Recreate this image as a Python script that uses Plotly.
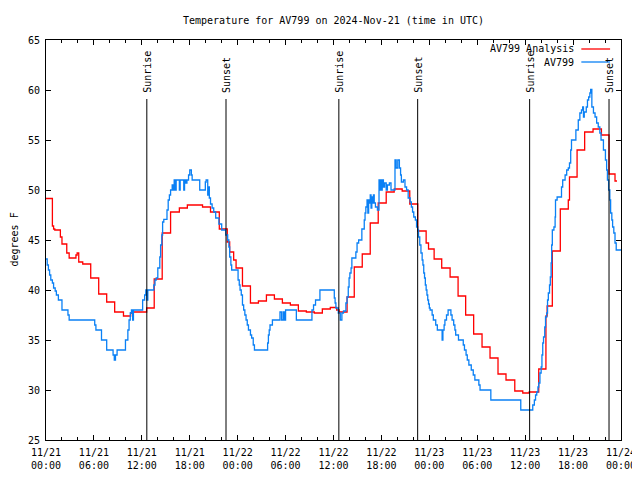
import pandas as pd
import plotly.graph_objects as go

start = pd.Timestamp("2024-11-21 00:00")

# AV799 Analysis (step starts, hours since 11/21 00:00 UTC, degrees F)
analysis_hours = [0, 0.8, 0.95, 1.1, 1.8, 2.0, 2.6, 2.9, 3.75, 3.9, 4.1, 4.6, 5.6, 6.6, 7.6, 8.6,
                  9.7, 10.6, 10.9, 12.6, 13.55, 14.55, 15.6, 16.7, 17.7, 19.6, 20.6, 21.7, 22.7,
                  23.0, 23.5, 23.8, 24.6, 25.6, 26.6, 27.6, 28.6, 29.6, 30.6, 31.6, 32.6, 33.6,
                  34.6, 35.6, 36.4, 36.7, 37.7, 38.6, 39.6, 40.6, 41.6, 42.6, 43.6, 44.6, 45.55,
                  46.55, 47.6, 47.9, 48.6, 49.55, 50.6, 51.6, 52.55, 53.55, 54.6, 55.6, 56.6,
                  57.6, 58.7, 59.7, 60.5, 61.7, 62.6, 62.75, 63.4, 64.4, 65.4, 65.55, 66.5,
                  67.45, 68.5, 69.55, 70.5, 71.25, 71.5]
analysis_temps = [49.15, 46.4, 46.1, 46.0, 45.3, 44.6, 43.7, 43.2, 43.5, 43.7, 42.8, 42.6, 41.2,
                  39.6, 38.8, 37.8, 37.4, 37.7, 37.8, 38.2, 41.1, 45.7, 47.8, 48.2, 48.5, 48.3,
                  47.8, 46.1, 44.8, 43.8, 43.0, 42.2, 40.4, 38.7, 38.9, 39.5, 39.1, 38.7, 38.5,
                  37.9, 37.8, 37.7, 38.1, 38.25, 38.0, 37.8, 39.3, 42.3, 43.6, 46.7, 48.7, 49.8,
                  50.1, 49.9, 48.6, 45.9, 44.7, 44.1, 43.1, 42.2, 41.3, 39.4, 37.5, 35.6, 34.3,
                  33.2, 31.6, 31.0, 29.9, 29.7, 29.8, 32.1, 37.4, 38.4, 43.9, 48.1, 49.0, 51.3,
                  54.0, 55.8, 56.1, 55.5, 51.6, 50.9, 50.9]

# AV799 observations (step starts)
obs_hours = [0.0, 0.15, 0.3, 0.45, 0.6, 0.8, 0.95, 1.15, 1.3, 1.55, 2.0, 2.75, 2.9, 6.1, 6.25,
             6.95, 7.6, 8.4, 8.55, 8.7, 8.9, 9.95, 10.25, 10.4, 10.55, 10.7, 10.85, 10.95, 12.1,
             12.35, 12.5, 12.65, 12.75, 13.5, 13.65, 13.8, 14.0, 14.25, 14.35, 14.5, 14.6, 14.75,
             15.15, 15.3, 15.45, 15.6, 15.8, 15.95, 16.05, 16.2, 16.3, 16.7, 16.8, 17.25, 17.35,
             17.5, 17.65, 17.85, 18.0, 18.2, 18.3, 19.25, 19.95, 20.05, 20.25, 20.35, 20.45,
             20.6, 20.8, 21.0, 21.25, 21.65, 22.0, 22.5, 22.75, 22.9, 23.0, 23.15, 23.25, 24.05,
             24.2, 24.3, 24.45, 24.6, 24.75, 24.9, 25.05, 25.2, 25.35, 25.6, 25.75, 25.95, 26.1,
             27.75, 27.85, 27.95, 28.05, 28.35, 29.3, 29.5, 29.7, 29.85, 30.0, 31.35, 33.3, 33.5,
             33.75, 34.3, 36.1, 36.2, 36.3, 36.6, 36.85, 37.05, 37.25, 37.55, 37.7, 37.85, 37.95,
             38.05, 38.2, 38.3, 38.8, 38.95, 39.15, 39.55, 39.85, 39.95, 40.05, 40.2, 40.3, 40.4,
             40.5, 40.6, 40.7, 40.8, 40.9, 41.0, 41.1, 41.25, 41.5, 41.7, 41.8, 41.9, 42.0, 42.1,
             42.25, 42.4, 42.6, 42.75, 43.0, 43.2, 43.7, 43.85, 44.05, 44.25, 44.4, 44.5, 44.75,
             44.95, 45.15, 45.35, 45.6, 45.75, 45.9, 46.05, 46.25, 46.4, 46.55, 46.65, 46.8,
             46.95, 47.1, 47.2, 47.3, 47.4, 47.5, 47.6, 47.7, 47.8, 47.9, 48.0, 48.1, 48.35,
             48.5, 48.8, 49.0, 49.6, 49.7, 49.85, 49.95, 50.15, 50.35, 50.7, 50.85, 51.05, 51.2,
             51.3, 51.65, 52.25, 52.4, 52.6, 52.75, 52.95, 53.25, 53.5, 53.7, 54.2, 54.35, 55.7,
             59.45, 60.95, 61.15, 61.3, 61.45, 61.6, 61.7, 61.85, 62.0, 62.1, 62.2, 62.3, 62.45,
             62.55, 62.7, 62.8, 62.9, 63.05, 63.15, 63.25, 63.32, 63.4, 63.6, 63.75, 63.8, 64.0,
             64.55, 64.7, 65.0, 65.2, 65.4, 65.55, 65.7, 65.8, 66.35, 66.65, 66.85, 67.05, 67.2,
             67.3, 67.4, 67.65, 67.8, 67.95, 68.1, 68.2, 68.35, 68.55, 68.75, 68.95, 69.15, 69.35,
             69.5, 69.8, 70.05, 70.2, 70.3, 70.45, 70.6, 70.7, 70.85, 70.95, 71.1, 71.25, 71.4,
             72.0]
obs_temps = [43.1, 42.5, 42.0, 41.5, 41.0, 40.7, 40.2, 39.9, 39.5, 39.0, 38.0, 37.5, 37.0, 36.5,
             36.0, 35.0, 34.0, 33.5, 33.0, 33.5, 34.0, 35.0, 36.0, 37.0, 37.7, 38.0, 37.0, 38.0,
             39.0, 39.5, 40.0, 39.0, 40.0, 40.5, 41.0, 41.2, 42.2, 43.3, 44.5, 45.5, 46.8, 47.07,
             48.0, 49.0, 49.5, 50.0, 50.5, 50.0, 51.0, 50.0, 51.0, 50.0, 51.0, 50.0, 51.0, 50.7,
             51.0, 51.5, 52.0, 51.5, 51.0, 50.0, 50.8, 51.0, 49.5, 50.3, 49.2, 48.6, 48.2, 47.8,
             47.2, 46.6, 46.0, 45.5, 45.0, 44.3, 43.3, 42.5, 42.0, 41.0, 40.5, 40.0, 39.5, 38.5,
             38.0, 37.5, 37.0, 36.5, 36.0, 35.5, 35.2, 34.5, 34.0, 34.7, 35.5, 36.0, 36.5, 37.0,
             37.8, 37.0, 37.8, 37.0, 38.0, 37.0, 38.0, 38.5, 39.0, 40.0, 39.2, 38.7, 38.2, 37.7,
             37.0, 37.7, 37.9, 38.7, 39.3, 40.3, 41.2, 41.7, 42.2, 43.2, 43.8, 44.7, 45.0, 46.1,
             47.0, 47.7, 48.3, 49.0, 47.7, 49.0, 48.7, 49.5, 48.2, 49.3, 48.7, 49.5, 48.7, 48.3,
             48.0, 51.0, 50.0, 51.0, 50.0, 51.0, 50.3, 50.7, 50.0, 50.5, 50.7, 50.0, 53.0, 52.2,
             53.0, 52.2, 51.5, 50.8, 51.0, 50.3, 50.0, 49.2, 48.8, 48.3, 47.8, 47.3, 47.0, 46.3,
             46.0, 45.3, 44.5, 43.7, 43.0, 42.5, 41.7, 41.2, 40.5, 40.0, 39.5, 39.0, 38.6, 38.2,
             38.0, 37.5, 37.0, 36.5, 36.0, 35.0, 36.0, 36.5, 37.0, 37.5, 38.0, 37.5, 37.0, 36.5,
             36.0, 35.5, 35.0, 34.5, 34.0, 33.5, 33.0, 32.5, 32.0, 31.5, 31.0, 30.5, 30.0, 29.0,
             28.0, 28.5, 29.0, 29.5, 29.8, 30.3, 30.7, 31.7, 32.3, 33.5, 34.7, 35.3, 36.3, 37.3,
             37.7, 39.0, 39.7, 40.5, 41.3, 42.7, 44.5, 46.0, 46.3, 47.3, 49.0, 49.3, 50.3, 51.0,
             51.5, 52.0, 52.2, 52.7, 54.0, 55.0, 56.0, 57.0, 57.7, 58.0, 58.3, 57.3, 57.8, 58.3,
             59.0, 59.3, 59.7, 60.07, 58.3, 57.7, 57.3, 56.7, 56.3, 55.7, 55.0, 54.0, 53.0, 52.0,
             51.0, 50.0, 49.0, 47.7, 47.0, 46.3, 45.7, 44.7, 44.0, 44.0]

sun_hours = [12.625, 22.54, 36.67, 46.54, 60.56, 70.5]
sun_labels = ["Sunrise", "Sunset", "Sunrise", "Sunset", "Sunrise", "Sunset"]
sun_line_top = 59.1

y_min, y_max = 25, 65

def to_time(hours):
    return [start + pd.Timedelta(hours=h) for h in hours]

FONT = "DejaVu Sans Mono"
RED = "#ff0000"
BLUE = "#0a80f5"
W, H = 632, 472   # page adds an 8px body margin

fig = go.Figure()
fig.add_trace(go.Scatter(x=to_time(analysis_hours), y=analysis_temps, mode="lines",
                         line=dict(color=RED, width=1.3, shape="hv"), name="AV799 Analysis"))
fig.add_trace(go.Scatter(x=to_time(obs_hours), y=obs_temps, mode="lines",
                         line=dict(color=BLUE, width=1.3, shape="hv"), name="AV799"))

for h, lab in zip(sun_hours, sun_labels):
    t = start + pd.Timedelta(hours=h)
    fig.add_shape(type="line", xref="x", yref="y", x0=t, x1=t, y0=y_min, y1=sun_line_top,
                  line=dict(color="black", width=1))
    fig.add_annotation(x=t, y=sun_line_top, xref="x", yref="y", text=lab, textangle=-90,
                       showarrow=False, xanchor="center", yanchor="bottom", yshift=4,
                       font=dict(family=FONT, size=10, color="black"))

# custom gnuplot-style key (text left, sample right)
legend_items = [("AV799 Analysis", RED, 0.9775), ("AV799", BLUE, 0.945)]
for name, col, yp in legend_items:
    fig.add_annotation(x=0.921, y=yp, xref="paper", yref="paper", text=name, showarrow=False,
                       xanchor="right", yanchor="middle",
                       font=dict(family=FONT, size=10, color="black"))
    fig.add_shape(type="line", xref="paper", yref="paper", x0=0.931, x1=0.981, y0=yp, y1=yp,
                  line=dict(color=col, width=1.3))

fig.add_annotation(x=-0.0565, y=0.5, xref="paper", yref="paper", text="degrees F",
                   textangle=-90, showarrow=False, xanchor="center", yanchor="middle",
                   borderpad=0, font=dict(family=FONT, size=10, color="black"))

fig.update_layout(
    width=W, height=H,
    margin=dict(l=38, r=19, t=32, b=40, autoexpand=False),
    paper_bgcolor="white", plot_bgcolor="white",
    showlegend=False,
    font=dict(family=FONT, size=10, color="black"),
    title=dict(text="Temperature for AV799 on 2024-Nov-21 (time in UTC)", x=0.5, xref="paper",
               xanchor="center", y=1 - 12 / H, yref="container", yanchor="middle",
               font=dict(family=FONT, size=10, color="black")),
)
fig.update_xaxes(
    type="date", range=[start, start + pd.Timedelta(hours=72)],
    tick0=start, dtick=6 * 3600 * 1000, tickformat="%m/%d<br>%H:%M",
    ticks="inside", ticklen=5, tickcolor="black", tickwidth=1,
    minor=dict(dtick=2 * 3600 * 1000, ticks="inside", ticklen=3, tickcolor="black", showgrid=False),
    showline=True, linecolor="black", linewidth=1, mirror="ticks",
    showgrid=False, zeroline=False, automargin=False, ticklabelstandoff=3,
    tickfont=dict(family=FONT, size=10, color="black"),
)
fig.update_yaxes(
    range=[y_min, y_max], dtick=5, tick0=25,
    ticks="inside", ticklen=5, tickcolor="black", tickwidth=1,
    showline=True, linecolor="black", linewidth=1, mirror="ticks",
    showgrid=False, zeroline=False, ticklabelstandoff=3, automargin=False,
    tickfont=dict(family=FONT, size=10, color="black"),
)

fig.write_html("out.html")
